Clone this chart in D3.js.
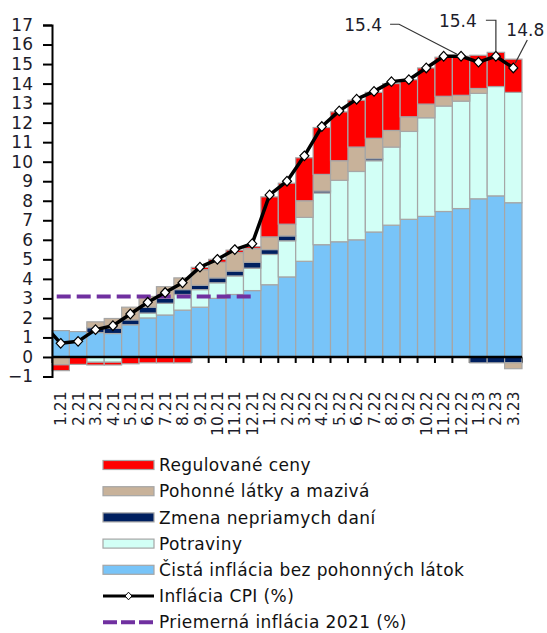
<!DOCTYPE html>
<html>
<head>
<meta charset="utf-8">
<script src="https://cdn.jsdelivr.net/npm/d3@7"></script>
<style>
  html, body { margin: 0; padding: 0; background: #fff; }
  svg { display: block; font-family: "DejaVu Sans", Verdana, sans-serif; }
</style>
</head>
<body>
<svg id="chart" width="547" height="633"></svg>
<script>
// ---------------- DATA ----------------
const categories = ["1.21","2.21","3.21","4.21","5.21","6.21","7.21","8.21","9.21","10.21","11.21","12.21",
                    "1.22","2.22","3.22","4.22","5.22","6.22","7.22","8.22","9.22","10.22","11.22","12.22",
                    "1.23","2.23","3.23"];
// Čistá inflácia bez pohonných látok
const coreInfl = [1.35,1.3,1.25,1.2,1.65,2.0,2.15,2.4,2.55,3.0,3.2,3.4,
                  3.7,4.1,4.9,5.75,5.9,6.0,6.4,6.75,7.05,7.2,7.45,7.6,
                  8.1,8.25,7.9];
// Potraviny
const food = [0,0,-0.27,-0.27,0,0.25,0.6,0.8,0.9,0.8,0.95,1.15,
              1.55,1.85,2.25,2.65,3.15,3.5,3.65,4.0,4.5,5.05,5.4,5.5,
              5.4,5.6,5.65];
// Zmena nepriamych daní
const taxes = [0,0,0.25,0.27,0.25,0.3,0.25,0.25,0.22,0.25,0.25,0.3,
               0.25,0.25,0,0.1,0,0,0.1,0,0,0,0,0,
               -0.3,-0.3,-0.3];
// Pohonné látky a mazivá
const fuels = [-0.4,0,0.3,0.5,0.65,0.55,0.6,0.6,0.8,0.8,0.95,0.7,
               0.65,0.6,0.85,0.85,1.0,1.25,1.05,0.85,0.75,0.7,0.5,0.3,
               0.25,0,-0.3];
// Regulované ceny
const regulated = [-0.3,-0.38,-0.14,-0.14,-0.35,-0.3,-0.3,-0.3,0.12,0.15,0.12,0.1,
                   2.05,2.1,2.2,2.4,2.5,2.4,2.35,2.4,1.9,1.85,2.0,2.0,
                   1.7,1.75,1.7];
// Inflácia CPI (%)
const cpi = [0.7,0.8,1.4,1.6,2.2,2.8,3.3,3.8,4.6,5.0,5.5,5.8,
             8.3,9.0,10.3,11.8,12.6,13.2,13.6,14.1,14.2,14.8,15.4,15.4,
             15.1,15.4,14.8];
const cpiPrevious = 1.7;          // 12.20 value (line enters from left edge)
// Priemerná inflácia 2021 (%)
const avg2021 = 3.1;
const avgFrom = "1.21", avgTo = "12.21";

const yTickValues = d3.range(-1, 18);
const seriesKeys = ["core","food","taxes","fuels","regulated"];
const seriesNames = {
  regulated: "Regulované ceny",
  fuels: "Pohonné látky a mazivá",
  taxes: "Zmena nepriamych daní",
  food: "Potraviny",
  core: "Čistá inflácia bez pohonných látok"
};
const colors = {
  core: "#78C4F8",
  food: "#D2FFF6",
  taxes: "#002060",
  fuels: "#C8B29A",
  regulated: "#FF0000"
};
const annotations = [
  {cat: "12.22", value: 15.4, text: "15.4", tx: -98, ty: -25, leader: [[-71,-32],[-62,-32],[-4,-2]]},
  {cat: "2.23",  value: 15.4, text: "15.4", tx: -38, ty: -29, leader: [[-10,-36],[0,-36],[0,-5]]},
  {cat: "3.23",  value: 14.8, text: "14.8", tx: 12,  ty: -32, leader: [[14,-28],[2,-5]]}
];

// ---------------- LAYOUT ----------------
const svg = d3.select("#chart");
const plot = {left: 52, right: 522, top: 25, bottom: 376.5};

const x = d3.scaleBand().domain(categories).range([plot.left, plot.right]).padding(0);
const y = d3.scaleLinear().domain([-1, 17]).range([plot.bottom, plot.top]);
const bw = x.bandwidth();
const cx = c => x(c) + bw / 2;

const rows = categories.map((c, i) => ({
  cat: c, core: coreInfl[i], food: food[i], taxes: taxes[i], fuels: fuels[i], regulated: regulated[i]
}));
const stacked = d3.stack().keys(seriesKeys).offset(d3.stackOffsetDiverging)(rows);

svg.append("defs").append("clipPath").attr("id", "plotClip")
  .append("rect").attr("x", plot.left).attr("y", 0)
  .attr("width", plot.right - plot.left).attr("height", plot.bottom);

// x ticks at band boundaries (drawn under bars)
const boundaries = categories.map(c => x(c)).concat([plot.right]);
svg.append("g").selectAll("line").data(boundaries).join("line")
  .attr("x1", d => d).attr("x2", d => d)
  .attr("y1", y(0)).attr("y2", y(0) + 6)
  .attr("stroke", "#000").attr("stroke-width", 2);

// bars
const gBars = svg.append("g");
stacked.forEach(layer => {
  gBars.append("g").selectAll("rect")
    .data(layer.filter(d => Math.abs(d[1] - d[0]) > 1e-6))
    .join("rect")
    .attr("x", d => x(d.data.cat))
    .attr("width", bw)
    .attr("y", d => y(Math.max(d[0], d[1])))
    .attr("height", d => Math.abs(y(d[0]) - y(d[1])))
    .attr("fill", colors[layer.key])
    .attr("stroke", "#A6A6A6")
    .attr("stroke-width", 1.2);
});

// y axis
const yAxis = d3.axisLeft(y).tickValues(yTickValues).tickSize(9).tickPadding(10).tickFormat(d3.format("d"));
const gy = svg.append("g").attr("transform", `translate(${plot.left},0)`).call(yAxis);
gy.select(".domain").attr("stroke", "#000").attr("stroke-width", 2);
gy.selectAll(".tick line").attr("stroke", "#000").attr("stroke-width", 2);
gy.selectAll(".tick text").attr("fill", "#1d1d2b").style("font-size", "17px")
  .style("font-family", "'DejaVu Sans', Verdana, sans-serif");

// x axis line
svg.append("line")
  .attr("x1", plot.left).attr("x2", plot.right)
  .attr("y1", y(0)).attr("y2", y(0))
  .attr("stroke", "#000").attr("stroke-width", 2.5);

// x labels
svg.append("g").selectAll("text").data(categories).join("text")
  .attr("transform", d => `translate(${cx(d)},${y(-1) + 15}) rotate(-90)`)
  .attr("text-anchor", "end")
  .attr("dy", "0.36em")
  .attr("fill", "#1d1d2b")
  .style("font-size", "15.5px")
  .text(d => d);

// average 2021 dashed line
svg.append("line")
  .attr("x1", cx(avgFrom) - 4).attr("x2", cx(avgTo))
  .attr("y1", y(avg2021)).attr("y2", y(avg2021))
  .attr("stroke", "#7030A0").attr("stroke-width", 4)
  .attr("stroke-dasharray", "14,6");

// CPI line
const cpiPts = cpi.map((v, i) => [cx(categories[i]), y(v)]);
const linePts = [[cx(categories[0]) - bw, y(cpiPrevious)]].concat(cpiPts);
svg.append("path")
  .attr("clip-path", "url(#plotClip)")
  .attr("d", d3.line()(linePts))
  .attr("fill", "none").attr("stroke", "#000").attr("stroke-width", 3.5)
  .attr("stroke-linejoin", "round");
const diamond = "M0,-4.8L4.5,0L0,4.8L-4.5,0Z";
svg.append("g").selectAll("path").data(cpiPts).join("path")
  .attr("transform", d => `translate(${d[0]},${d[1]})`)
  .attr("d", diamond)
  .attr("fill", "#fff").attr("stroke", "#000").attr("stroke-width", 1.2);

// annotations
annotations.forEach(a => {
  const px = cx(a.cat), py = y(a.value);
  svg.append("path")
    .attr("d", d3.line()(a.leader.map(p => [px + p[0], py + p[1]])))
    .attr("fill", "none").attr("stroke", "#333").attr("stroke-width", 1.2);
  svg.append("text")
    .attr("x", px + a.tx).attr("y", py + a.ty)
    .attr("text-anchor", "middle")
    .attr("fill", "#1d1d2b")
    .style("font-size", "17px")
    .text(a.text);
});

// legend
const legendItems = [
  {type: "rect", key: "regulated"},
  {type: "rect", key: "fuels"},
  {type: "rect", key: "taxes"},
  {type: "rect", key: "food"},
  {type: "rect", key: "core"},
  {type: "cpi", name: "Inflácia CPI (%)"},
  {type: "avg", name: "Priemerná inflácia 2021 (%)"}
];
const lg = svg.append("g");
const lx = 103, lw = 51, ly0 = 465, lstep = 26.2;
legendItems.forEach((it, i) => {
  const yy = ly0 + i * lstep;
  if (it.type === "rect") {
    lg.append("rect").attr("x", lx).attr("y", yy - 4.5).attr("width", lw).attr("height", 9)
      .attr("fill", colors[it.key]).attr("stroke", "#A6A6A6").attr("stroke-width", 1.2);
  } else if (it.type === "cpi") {
    lg.append("line").attr("x1", lx).attr("x2", lx + lw).attr("y1", yy).attr("y2", yy)
      .attr("stroke", "#000").attr("stroke-width", 3);
    lg.append("path").attr("transform", `translate(${lx + lw / 2},${yy})`)
      .attr("d", "M0,-3.8L3.5,0L0,3.8L-3.5,0Z")
      .attr("fill", "#fff").attr("stroke", "#000").attr("stroke-width", 1);
  } else {
    lg.append("line").attr("x1", lx).attr("x2", lx + lw).attr("y1", yy).attr("y2", yy)
      .attr("stroke", "#7030A0").attr("stroke-width", 4).attr("stroke-dasharray", "14,4");
  }
  lg.append("text")
    .attr("x", lx + lw + 5).attr("y", yy).attr("dy", "0.36em")
    .attr("fill", "#111")
    .style("font-size", "17px")
    .style("letter-spacing", "0.4px")
    .text(it.type === "rect" ? seriesNames[it.key] : it.name);
});
</script>
</body>
</html>
